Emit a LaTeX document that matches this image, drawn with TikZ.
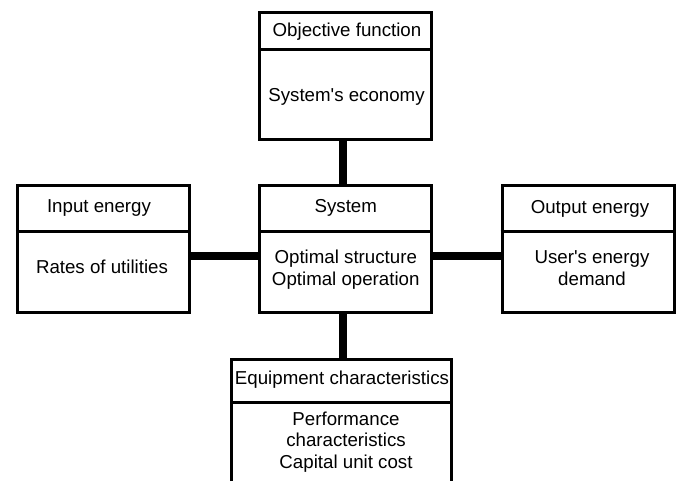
\documentclass[tikz,border=0pt]{standalone}
\usepackage{fontspec}
\setmainfont{Liberation Sans}[Ligatures=TeXOff]

\begin{document}
\begin{tikzpicture}[x=1pt,y=-1pt]
        \tikzset{box/.style={draw,line width=3pt,minimum width=172,minimum height=127,inner sep=0pt},
            openbox/.style={draw=none,line width=3pt,minimum width=220,minimum height=121.5,inner sep=0pt,outer sep=0pt},
            headline/.style={draw,line width=3pt},
            link/.style={draw,line width=8pt},
            caption/.style={font=\fontsize{18.7}{21.5}\selectfont,align=center,inner sep=0pt}}
        \useasboundingbox (0,0) rectangle (676,481);
        % the five blocks
        \node[box] (obj) at (345.75,76.5) {};
        \node[box] (sys) at (345.75,248.5) {};
        \node[box] (inp) at (103.25,248.5) {};
        \node[box] (out) at (588,248.5) {};
        \node[openbox] (equip) at (341,420.25) {};
        \draw[headline] (equip.south west) |- (equip.north) -| (equip.south east);
        % header separators
        \draw[headline] (obj.west |- 0,50) -- (obj.east |- 0,50);
        \draw[headline] (sys.west |- 0,231) -- (sys.east |- 0,231);
        \draw[headline] (inp.west |- 0,231) -- (inp.east |- 0,231);
        \draw[headline] (out.west |- 0,231) -- (out.east |- 0,231);
        \draw[headline] (equip.west |- 0,402) -- (equip.east |- 0,402);
        % texts
        \node[caption] (objhead) at (347,32) {Objective function};
        \node[caption] (objbody) at (346.5,97) {System's economy};
        \node[caption] (syshead) at (345.75,208) {System};
        \node[caption] (sysbody) at (345.75,269.5) {Optimal structure\\Optimal operation};
        \node[caption] (inphead) at (99,208) {Input energy};
        \node[caption] (inpbody) at (102,267) {Rates of utilities};
        \node[caption] (outhead) at (590,209) {Output energy};
        \node[caption] (outbody) at (592,268) {User's energy\\demand};
        \node[caption] (eqhead) at (342,380) {Equipment characteristics};
        \node[caption] (eqbody) at (346,442) {Performance\\characteristics\\Capital unit cost};
        % thick links
        \draw[link] ([xshift=-3pt]obj.south) -- ([xshift=-3pt]sys.north);
        \draw[link] ([yshift=-7.5pt]inp.east) -- ([yshift=-7.5pt]sys.west);
        \draw[link] ([yshift=-7.5pt]sys.east) -- ([yshift=-7.5pt]out.west);
        \draw[link] ([xshift=-3pt]sys.south) -- ([xshift=-3pt]sys.south |- equip.north);
    \end{tikzpicture}
\end{document}
